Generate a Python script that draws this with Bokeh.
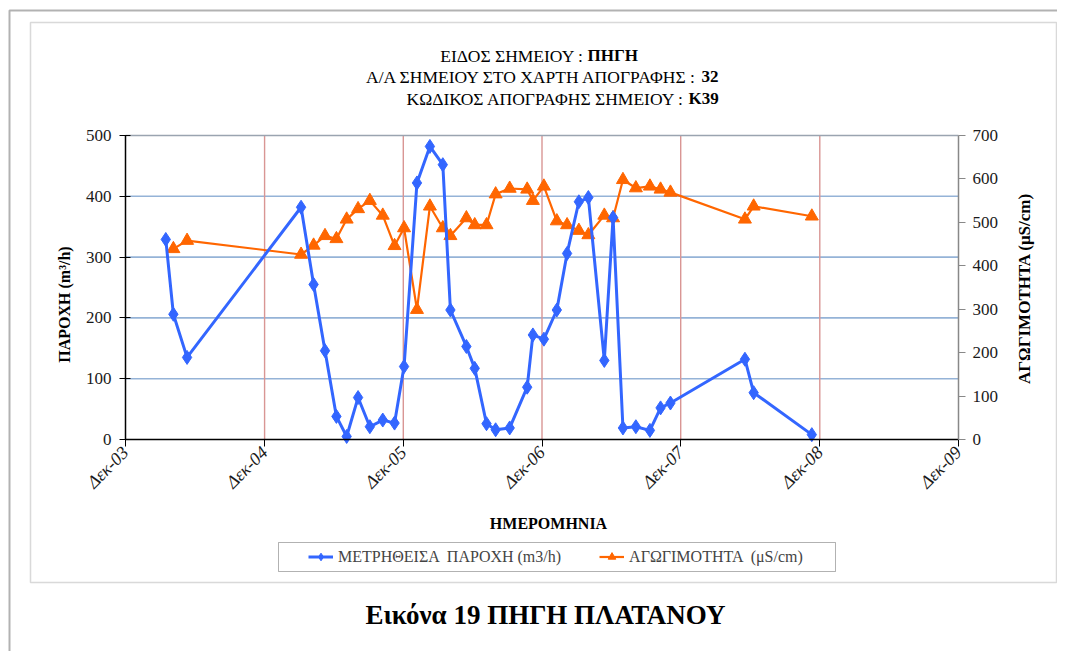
import math
import pandas as pd
from bokeh.plotting import figure
from bokeh.models import (Range1d, LinearAxis, DatetimeAxis, FixedTicker, Label,
                          Legend, LegendItem, PolyAnnotation, ColumnDataSource)
from bokeh.embed import file_html
from bokeh.resources import INLINE

# ---------------- data ----------------
flow_dates = ["2004-03-16", "2004-04-05", "2004-05-11", "2005-03-07", "2005-04-09",
              "2005-05-09", "2005-06-08", "2005-07-05", "2005-08-04", "2005-09-04",
              "2005-10-08", "2005-11-08", "2005-12-03", "2006-01-06", "2006-02-09",
              "2006-03-15", "2006-04-04", "2006-05-16", "2006-06-07", "2006-07-08",
              "2006-08-01", "2006-09-07", "2006-10-23", "2006-11-07", "2006-12-06",
              "2007-01-09", "2007-02-05", "2007-03-08", "2007-04-02", "2007-05-14",
              "2007-06-06", "2007-07-02", "2007-08-05", "2007-09-11", "2007-10-09",
              "2007-11-04", "2008-05-18", "2008-06-10", "2008-11-10"]
flow_values = [329, 206, 135, 382, 255, 146, 38, 5, 69, 21, 32, 27, 120, 422, 482,
               452, 213, 153, 117, 26, 16, 19, 86, 172, 165, 213, 306, 391, 398, 130,
               365, 19, 21, 15, 52, 60, 132, 77, 8]

cond_dates = ["2004-04-05", "2004-05-11", "2005-03-07", "2005-04-09",
              "2005-05-09", "2005-06-08", "2005-07-05", "2005-08-04", "2005-09-04",
              "2005-10-08", "2005-11-08", "2005-12-03", "2006-01-06", "2006-02-09",
              "2006-03-15", "2006-04-04", "2006-05-16", "2006-06-07", "2006-07-08",
              "2006-08-01", "2006-09-07", "2006-10-23", "2006-11-07", "2006-12-06",
              "2007-01-09", "2007-02-05", "2007-03-08", "2007-04-02", "2007-05-14",
              "2007-06-06", "2007-07-02", "2007-08-05", "2007-09-11", "2007-10-09",
              "2007-11-04", "2008-05-18", "2008-06-10", "2008-11-10"]
cond_values = [439, 458, 426, 447, 469, 462, 507, 531, 550, 516, 446, 487, 299, 537,
               487, 469, 510, 494, 494, 565, 578, 576, 550, 583, 503, 494, 481, 471,
               516, 510, 598, 579, 583, 576, 569, 507, 537, 514]

tick_dates = ["2003-12-01", "2004-12-01", "2005-12-01", "2006-12-01",
              "2007-12-01", "2008-12-01", "2009-12-01"]
tick_labels = ["Δεκ-03", "Δεκ-04", "Δεκ-05", "Δεκ-06", "Δεκ-07", "Δεκ-08", "Δεκ-09"]
flow_ticks = [0, 100, 200, 300, 400, 500]
cond_ticks = [0, 100, 200, 300, 400, 500, 600, 700]

title_lines = [("ΕΙΔΟΣ ΣΗΜΕΙΟΥ :", "ΠΗΓΗ"),
               ("Α/Α ΣΗΜΕΙΟΥ ΣΤΟ ΧΑΡΤΗ ΑΠΟΓΡΑΦΗΣ :", "32"),
               ("ΚΩΔΙΚΟΣ ΑΠΟΓΡΑΦΗΣ ΣΗΜΕΙΟΥ :", "Κ39")]
flow_name = "ΜΕΤΡΗΘΕΙΣΑ  ΠΑΡΟΧΗ (m3/h)"
cond_name = "ΑΓΩΓΙΜΟΤΗΤΑ  (μS/cm)"
flow_axis_title = "ΠΑΡΟΧΗ (m³/h)"
cond_axis_title = "ΑΓΩΓΙΜΟΤΗΤΑ (μS/cm)"
x_axis_title = "ΗΜΕΡΟΜΗΝΙΑ"
caption = "Εικόνα 19 ΠΗΓΗ ΠΛΑΤΑΝΟΥ"

# ---------------- geometry (picture pixels) ----------------
W, H = 1057, 651                      # canvas
PL, PR, PT, PB = 125, 958, 135, 439   # plot area inside the canvas

def ms(d):
    return int(pd.Timestamp(d).timestamp() * 1000)

tick_ms = [ms(d) for d in tick_dates]
x_lo, x_hi = tick_ms[0], tick_ms[-1]
kx = (x_hi - x_lo) / (PR - PL)
ky = flow_ticks[-1] / (PB - PT)
kc = cond_ticks[-1] / (PB - PT)

FONT = "Liberation Serif"
BLUE = "#3366FF"
ORANGE = "#FF6600"
TICK_SIZE = "17px"

p = figure(width=W, height=H, x_axis_type=None, y_axis_type=None,
           x_range=Range1d(x_lo - PL * kx, x_hi + (W - PR) * kx),
           y_range=Range1d(-(H - PB) * ky, flow_ticks[-1] + PT * ky),
           output_backend="svg", toolbar_location=None,
           min_border=0, min_border_left=0, min_border_right=0,
           min_border_top=0, min_border_bottom=0)
p.title.visible = False
p.grid.visible = False
p.background_fill_color = "white"
p.border_fill_color = "white"
p.outline_line_color = None
p.extra_y_ranges = {"cond": Range1d(-(H - PB) * kc, cond_ticks[-1] + PT * kc)}

# ---------------- grid lines (from the tick lists) ----------------
inner_y = flow_ticks[1:-1]
p.segment(x0=[x_lo] * len(inner_y), x1=[x_hi] * len(inner_y), y0=inner_y, y1=inner_y,
          line_color="#95B3D7", line_width=1.6)
inner_x = tick_ms[1:-1]
p.segment(x0=inner_x, x1=inner_x, y0=[0] * len(inner_x), y1=[flow_ticks[-1]] * len(inner_x),
          line_color="#D99694", line_width=1.4)
p.segment(x0=[x_lo], x1=[x_hi], y0=[flow_ticks[-1]], y1=[flow_ticks[-1]],
          line_color="#9aa4b0", line_width=1.6)

# ---------------- axes ----------------
xa = DatetimeAxis(fixed_location=0, bounds=(x_lo, x_hi),
                  ticker=FixedTicker(ticks=tick_ms))
xa.major_label_overrides = dict(zip(tick_ms, tick_labels))
xa.major_label_orientation = math.pi / 4
xa.major_label_text_font = FONT
xa.major_label_text_font_style = "italic"
xa.major_label_text_font_size = "18px"
xa.major_label_text_color = "#1a1a1a"
xa.major_label_standoff = 3
xa.axis_line_color = "black"
xa.axis_line_width = 1.5
xa.major_tick_line_color = "black"
xa.major_tick_in = 0
xa.major_tick_out = 7
xa.minor_tick_line_color = None
p.add_layout(xa, "below")

ya = LinearAxis(fixed_location=x_lo, bounds=(0, flow_ticks[-1]),
                ticker=FixedTicker(ticks=flow_ticks))
ya.major_label_text_font = FONT
ya.major_label_text_font_size = TICK_SIZE
ya.major_label_text_color = "#1a1a1a"
ya.major_label_standoff = 8
ya.axis_line_color = "black"
ya.axis_line_width = 1.5
ya.major_tick_line_color = "black"
ya.major_tick_in = 5
ya.major_tick_out = 6
ya.minor_tick_line_color = None
p.add_layout(ya, "left")

ra = LinearAxis(y_range_name="cond", fixed_location=x_hi, bounds=(0, cond_ticks[-1]),
                ticker=FixedTicker(ticks=cond_ticks))
ra.major_label_text_font = FONT
ra.major_label_text_font_size = TICK_SIZE
ra.major_label_text_color = "#1a1a1a"
ra.major_label_standoff = 7
ra.axis_line_color = "#888888"
ra.axis_line_width = 1.5
ra.major_tick_line_color = "#888888"
ra.major_tick_in = 0
ra.major_tick_out = 7
ra.minor_tick_line_color = None
p.add_layout(ra, "right")

# ---------------- series ----------------
fsrc = ColumnDataSource(dict(x=pd.to_datetime(flow_dates), y=flow_values))
csrc = ColumnDataSource(dict(x=pd.to_datetime(cond_dates), y=cond_values))

ol = p.line("x", "y", source=csrc, y_range_name="cond", line_color=ORANGE, line_width=2.2)
os_ = p.scatter("x", "y", source=csrc, y_range_name="cond", marker="triangle",
                size=13, fill_color=ORANGE, line_color=ORANGE)
bl = p.line("x", "y", source=fsrc, line_color=BLUE, line_width=3)
bs = p.scatter("x", "y", source=fsrc, marker="diamond", size=14,
               fill_color=BLUE, line_color=BLUE)

# ---------------- annotations (screen units, origin bottom-left) ----------------
def sx(x):
    return x

def sy(y):
    return H - y

def box(x0, y0, x1, y1, color, width, fill=None):
    p.add_layout(PolyAnnotation(xs=[sx(x0), sx(x1), sx(x1), sx(x0)],
                                ys=[sy(y0), sy(y0), sy(y1), sy(y1)],
                                xs_units="screen", ys_units="screen",
                                line_color=color, line_width=width,
                                fill_color=fill if fill else "white",
                                fill_alpha=1 if fill else 0, level="annotation"))

def lab(text, x, y, size, style="normal", align="center", angle=0.0):
    p.add_layout(Label(x=sx(x), y=sy(y), x_units="screen", y_units="screen",
                       text=text, text_font=FONT, text_font_size=f"{size}px",
                       text_font_style=style, text_align=align,
                       text_baseline="middle", angle=angle, text_color="black"))

# outer page frame and chart border
box(9, 10, 1100, 700, "black", 2)
box(30, 22, 1056, 582, "#808080", 1.5)

# title lines (normal part + bold part)
title_y = [55, 76, 98]
split_x = [583, 697, 684]
for (norm, bold), y, xs in zip(title_lines, title_y, split_x):
    lab(norm, xs, y, 17.5, "normal", "right")
    lab(bold, xs + 4, y, 17, "bold", "left")

# axis titles
lab(flow_axis_title, 64, 304, 16, "bold", "center", math.pi / 2)
lab(cond_axis_title, 1024, 288, 17, "bold", "center", math.pi / 2)
lab(x_axis_title, 548, 523, 16, "bold", "center")

# legend box + legend
box(278, 542, 835, 571, "black", 1, fill="white")
legend = Legend(items=[LegendItem(label=flow_name, renderers=[bl, bs]),
                       LegendItem(label=cond_name, renderers=[ol, os_])],
                location=(sx(303), sy(571)), orientation="horizontal",
                padding=5, spacing=38, glyph_width=25, glyph_height=19,
                label_standoff=5, label_text_font=FONT,
                label_text_font_size="16px", border_line_alpha=0,
                background_fill_alpha=0, margin=0)
p.add_layout(legend)

# caption
lab(caption, 545, 614, 27, "bold", "center")

open("out.html", "w").write(file_html(p, INLINE))
